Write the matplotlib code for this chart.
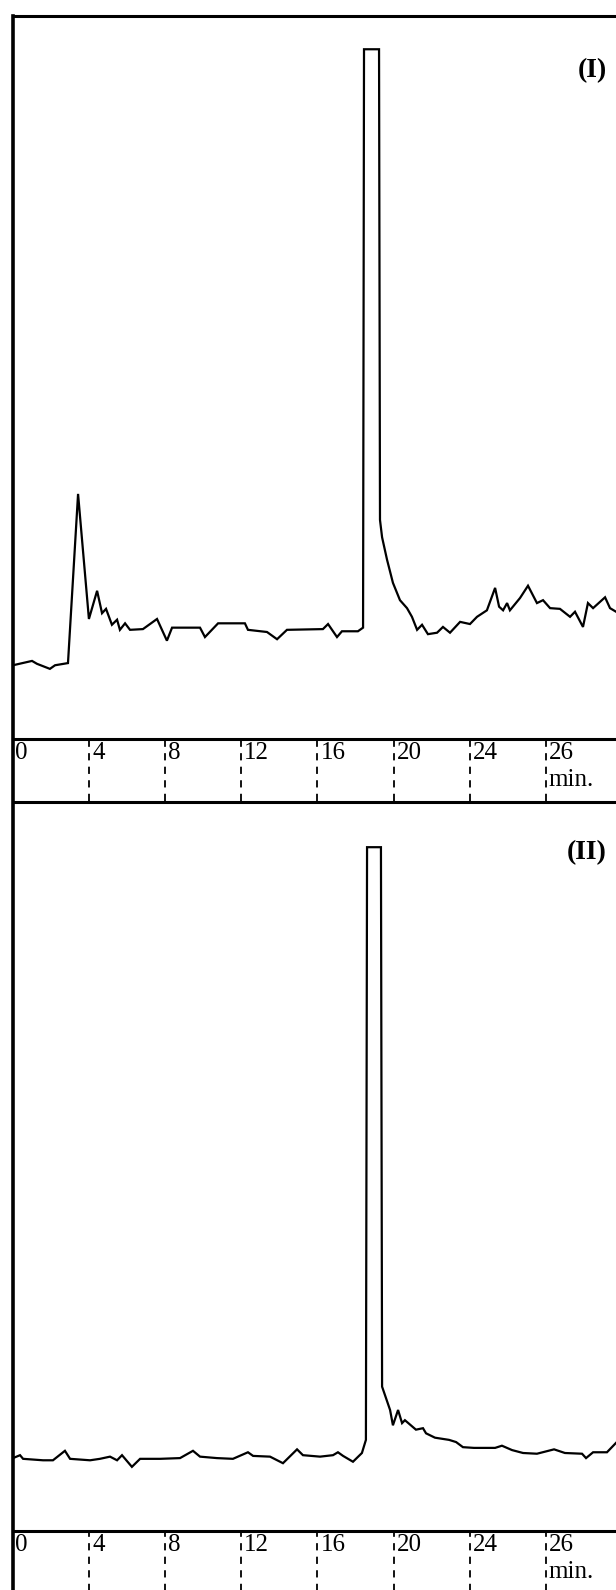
import numpy as np
import matplotlib
matplotlib.use("Agg")
from matplotlib import pyplot as plt
from matplotlib import transforms


# Two chromatograms, (I) and (II): detector response (% of full scale)
# against retention time. The 26 label sits where 28 min would be.
tick_pos = [0, 4, 8, 12, 16, 20, 24, 28]
tick_labels = ['0', '4', '8', '12', '16', '20', '24', '26']

time_1 = [0.00, 1.00, 1.26, 1.94, 2.21, 2.89, 3.42, 3.99, 4.42, 4.68, 4.89,
          5.20, 5.47, 5.62, 5.89, 6.15, 6.83, 7.57, 8.09, 8.36, 9.83, 10.09,
          10.78, 12.19, 12.35, 13.35, 13.88, 14.40, 16.29, 16.56, 17.03,
          17.29, 18.13, 18.40, 18.45, 19.24, 19.29, 19.40, 19.66, 19.97,
          20.34, 20.71, 20.97, 21.24, 21.50, 21.81, 22.29, 22.60, 22.97,
          23.50, 24.02, 24.39, 24.91, 25.34, 25.55, 25.76, 25.97, 26.12,
          26.65, 27.07, 27.54, 27.86, 28.23, 28.75, 29.28, 29.54, 29.96,
          30.22, 30.49, 31.12, 31.38, 31.70]
resp_1 = [10.2, 10.8, 10.4, 9.7, 10.2, 10.5, 33.9, 16.6, 20.5, 17.4, 18.0,
          15.8, 16.5, 15.1, 16.0, 15.1, 15.2, 16.6, 13.6, 15.4, 15.4, 14.1,
          16.0, 16.0, 15.1, 14.8, 13.8, 15.1, 15.2, 15.9, 14.1,
          14.9, 14.9, 15.4, 95.4, 95.4, 30.3, 27.9, 24.8, 21.6,
          19.2, 18.1, 16.9, 15.1, 15.8, 14.5, 14.7, 15.5, 14.7,
          16.2, 15.9, 16.9, 17.8, 20.9, 18.3, 17.8, 18.8, 17.8,
          19.5, 21.2, 18.8, 19.2, 18.1, 18.0, 16.9, 17.6, 15.5,
          18.8, 18.1, 19.6, 18.1, 17.6]

time_2 = [0.00, 0.37, 0.53, 1.58, 2.10, 2.73, 3.00, 4.05, 4.57, 5.10, 5.47,
          5.73, 6.25, 6.68, 7.73, 8.78, 9.46, 9.83, 10.72, 11.56, 12.35,
          12.62, 13.51, 14.19, 14.93, 15.24, 16.14, 16.82, 17.08, 17.35,
          17.87, 18.34, 18.55, 18.61, 19.34, 19.40, 19.82, 19.97, 20.24,
          20.45, 20.60, 21.18, 21.55, 21.71, 22.18, 22.92, 23.29, 23.65,
          24.23, 25.34, 25.70, 26.23, 26.81, 27.54, 28.44, 29.01, 29.91,
          30.12, 30.49, 31.22, 31.70]
resp_2 = [10.0, 10.4, 9.9, 9.7, 9.7, 11.0, 9.9, 9.7, 9.9, 10.2, 9.7,
          10.4, 8.8, 9.9, 9.9, 10.0, 11.0, 10.2, 10.0, 9.9, 10.8,
          10.3, 10.2, 9.3, 11.2, 10.4, 10.2, 10.4, 10.8, 10.3,
          9.5, 10.7, 12.5, 93.8, 93.8, 19.8, 16.6, 14.5, 16.6,
          14.8, 15.2, 13.9, 14.1, 13.4, 12.8, 12.5, 12.2, 11.5,
          11.4, 11.4, 11.7, 11.1, 10.7, 10.6, 11.2, 10.7, 10.6,
          10.0, 10.8, 10.8, 12.1]

panels = [('(I)', time_1, resp_1), ('(II)', time_2, resp_2)]

W, H = 616, 1590
plt.rcParams['font.family'] = ['Liberation Serif', 'DejaVu Serif']
fig = plt.figure(figsize=(W / 100, H / 100), dpi=100)

# panel boxes in pixels: (top, axis line)
boxes = [(16, 739), (802, 1531)]
x_left = 13
band = [62, 60]
name_y = [0.925, 0.93]

for i, (name, t, r) in enumerate(panels):
    top, bot = boxes[i]
    ax = fig.add_axes([x_left / W, 1 - bot / H, (W - x_left) / W, (bot - top) / H])
    ax.plot(t, r, color='black', lw=1.6, solid_joinstyle='miter')
    ax.set_xlim(0, (W - x_left) / 76.1 * 4)
    ax.set_ylim(0, 100)
    ax.set_xticks([])
    ax.set_yticks([])
    ax.spines['right'].set_visible(False)
    ax.spines['left'].set_visible(False)
    ax.spines['top'].set_linewidth(2.2)
    ax.spines['bottom'].set_linewidth(2.2)

    # dashed ticks below the axis line, labels to their right
    depth = band[i] / (bot - top)
    ax.vlines(tick_pos[1:], -depth, 0, transform=ax.get_xaxis_transform(),
              colors='black', lw=1.3, linestyles=(0, (4, 3.5)), clip_on=False)
    for p, lab in zip(tick_pos, tick_labels):
        tr = transforms.offset_copy(ax.get_xaxis_transform(), fig=fig,
                                    x=3 if p > 0 else 2, y=-3, units='dots')
        ax.text(p, 0, lab, transform=tr, ha='left', va='top', fontsize=18)
    tr = transforms.offset_copy(ax.get_xaxis_transform(), fig=fig,
                                x=3, y=-30, units='dots')
    ax.text(tick_pos[-1], 0, 'min.', transform=tr, ha='left', va='top', fontsize=18)

    ax.text(0.985, name_y[i], name, transform=ax.transAxes, ha='right',
            va='center', fontsize=20, fontweight='bold')

# frame line on the left running the whole height
fig.add_artist(plt.Line2D([x_left / W, x_left / W], [0, 1 - 16 / H],
                          color='black', lw=2.6, transform=fig.transFigure))

fig.savefig('out.png', dpi=100, facecolor='white')
